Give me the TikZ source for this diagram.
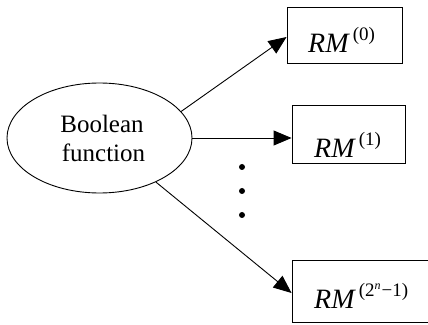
\documentclass[tikz,border=0pt]{standalone}
\usepackage{fontspec}
\setmainfont{Liberation Serif}
\usetikzlibrary{arrows.meta,shapes.geometric}
\newcommand{\rmsup}[1]{\textit{RM}\hspace{3pt}\raisebox{12pt}{\fontsize{19}{19}\selectfont #1}}
\tikzset{
  frame/.style={draw, line width=0.9pt, inner sep=0pt},
  txt/.style={inner sep=0pt, anchor=base west, font=\fontsize{25}{29}\selectfont},
  lbl/.style={inner sep=0pt, anchor=base west, font=\fontsize{28}{30}\selectfont},
  conn/.style={line width=0.9pt, -{Triangle[length=18pt,width=15pt]}},
  dotmark/.style={circle, fill, inner sep=0pt, minimum size=6pt}
}
\begin{document}
\begin{tikzpicture}[x=1pt,y=1pt]
  \useasboundingbox (0,0) rectangle (428,324);
  \clip (0,0) rectangle (428,324);
  % source ellipse
  \node[frame, ellipse, minimum width=185pt, minimum height=110pt] (bf) at (99.5,186) {};
  \node[txt, anchor=base] (l1) at (102,191) {Boolean};
  \node[txt, anchor=base] (l2) at (103.5,162) {function};
  % target boxes
  \node[frame, minimum width=115pt, minimum height=56pt] (b0) at (344.5,289) {};
  \node[frame, minimum width=113pt, minimum height=58pt] (b1) at (348.5,190) {};
  \node[frame, minimum width=150pt, minimum height=62pt] (b2) at (367,33) {};
  % box labels
  \node[lbl] (t0) at (308,271) {\rmsup{(0)}};
  \node[lbl] (t1) at (314,166) {\rmsup{(1)}};
  \node[lbl] (t2) at (314,16) {\rmsup{(2\raisebox{7pt}{\fontsize{12}{12}\selectfont\itshape n}\hspace{1pt}−1)}};
  % connectors
  \draw[conn] (bf.18) -- ([yshift=-2pt]b0.west);
  \draw[conn] (bf.east) -- (bf.east -| b1.west);
  \draw[conn] (bf.-38) -- ([yshift=-2pt]b2.west);
  % ellipsis dots
  \node[dotmark] (d1) at (242,157) {};
  \node[dotmark] (d2) at (242,133) {};
  \node[dotmark] (d3) at (242,109) {};
\end{tikzpicture}
\end{document}
